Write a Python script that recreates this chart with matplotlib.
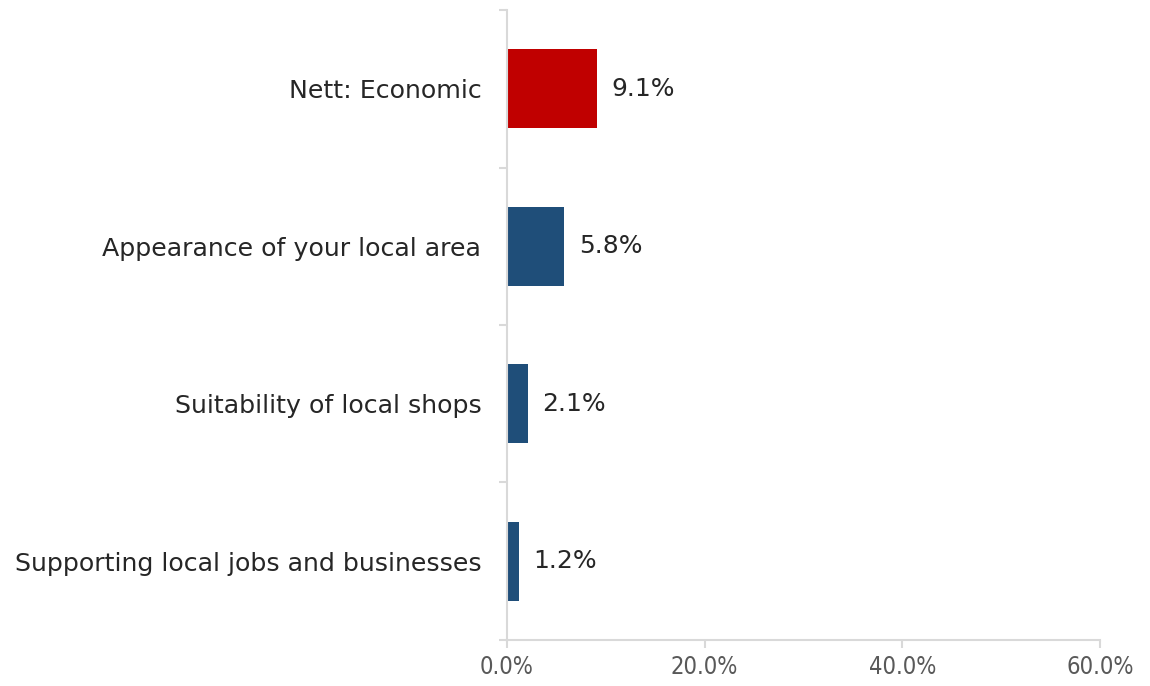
import matplotlib.pyplot as plt
from matplotlib.ticker import FixedLocator, PercentFormatter

categories = ['Nett: Economic', 'Appearance of your local area',
              'Suitability of local shops', 'Supporting local jobs and businesses']
values = [9.1, 5.8, 2.1, 1.2]
colors = ['#C00000', '#1F4E79', '#1F4E79', '#1F4E79']
x_ticks = [0, 20, 40, 60]

plt.rcParams['font.family'] = ['DejaVu Sans']

fig = plt.figure(figsize=(11.5, 6.86), dpi=100)
ax = fig.add_axes([0.4409, 0.0671, 0.5156, 0.9183])

pos = list(range(len(categories)))
ax.barh(pos, values, height=0.5, color=colors)
ax.set_ylim(len(categories) - 0.5, -0.5)
ax.set_xlim(0, 60)

for p, v in zip(pos, values):
    ax.text(v + 1.5, p, f'{v:.1f}%', va='center', ha='left',
            fontsize=18, color='#262626')

ax.set_yticks(pos)
ax.set_yticklabels(categories, fontsize=18.2, color='#262626')
ax.yaxis.set_minor_locator(FixedLocator([-0.5, 0.5, 1.5, 2.5, 3.5]))
ax.tick_params(axis='y', which='major', length=0, pad=18.5)
ax.tick_params(axis='y', which='minor', length=6, color='#D9D9D9', width=1.5)

ax.set_xticks(x_ticks)
ax.xaxis.set_major_formatter(PercentFormatter(decimals=1))
ax.tick_params(axis='x', length=6, color='#D9D9D9', width=1.5,
               labelsize=17, labelcolor='#595959', pad=5)
for lbl in ax.get_xticklabels():
    lbl.set_fontstretch('condensed')

for s in ['top', 'right']:
    ax.spines[s].set_visible(False)
for s in ['left', 'bottom']:
    ax.spines[s].set_color('#D9D9D9')
    ax.spines[s].set_linewidth(1.5)

fig.savefig('out.png', dpi=100)
